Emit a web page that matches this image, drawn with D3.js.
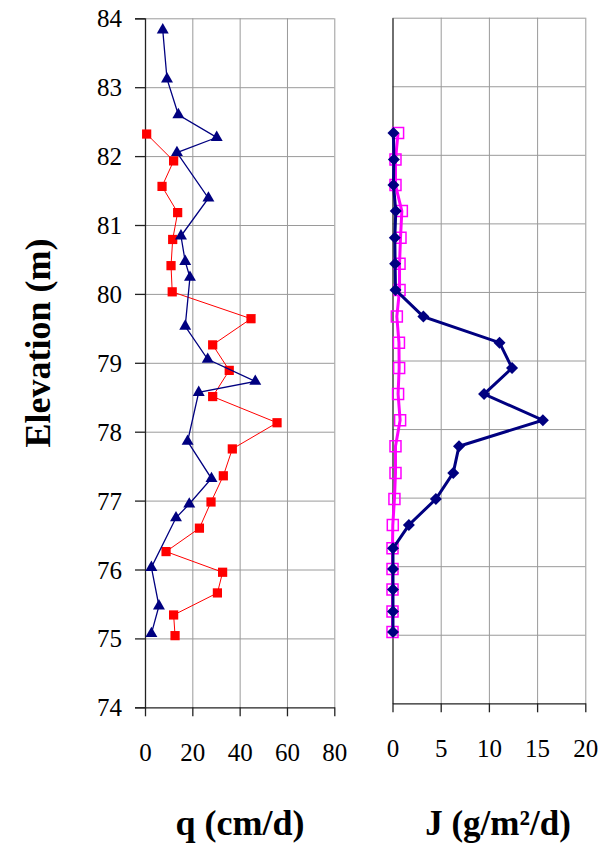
<!DOCTYPE html>
<html>
<head>
<meta charset="utf-8">
<script src="https://cdn.jsdelivr.net/npm/d3@7"></script>
<style>
  body { margin: 0; background: #fff; }
  svg { display: block; font-family: "Liberation Serif", "Times New Roman", serif; }
  .grid line { stroke: #9a9a9a; stroke-width: 1; }
  .grid path { display: none; }
  .axis path, .axis line { stroke: #222; stroke-width: 1.3; }
  .title { font-weight: bold; fill: #000; }
</style>
</head>
<body>
<svg id="chart" width="602" height="851"></svg>
<script>
const serif = "'Liberation Serif', 'Times New Roman', serif";

// elevation ticks shared by both panels
const elevTicks = [74, 75, 76, 77, 78, 79, 80, 81, 82, 83, 84];
const qTicks = [0, 20, 40, 60, 80];
const jTicks = [0, 5, 10, 15, 20];

// blue triangles (q, upper series)
const elevTri = [83.83, 83.12, 82.60, 82.27, 82.05, 81.39, 80.84, 80.47, 80.24, 79.53,
                 79.05, 78.73, 78.57, 77.86, 77.32, 76.95, 76.75, 76.03, 75.47, 75.07];
const qTri = [7.5, 9.3, 14.1, 30.3, 13.5, 26.8, 15.2, 17.0, 19.0, 17.0,
              26.5, 46.6, 22.7, 18.0, 28.1, 18.7, 13.1, 2.7, 5.9, 2.7];

// red squares / diamonds / open squares share the same sampling depths
const elevSq = [82.32, 81.93, 81.56, 81.18, 80.79, 80.41, 80.03, 79.64, 79.26, 78.89, 78.51,
                78.13, 77.75, 77.36, 76.98, 76.60, 76.26, 75.96, 75.66, 75.34, 75.04];
const qSq = [0.7, 12.1, 7.2, 13.8, 11.7, 11.0, 11.5, 44.8, 28.6, 35.6, 28.6,
             55.8, 36.9, 33.1, 27.9, 23.0, 8.9, 32.8, 30.6, 12.1, 12.7];
const jDiamond = [0.1, 0.14, 0.1, 0.34, 0.24, 0.27, 0.31, 3.2, 11.1, 12.4, 9.5,
                  15.6, 6.9, 6.3, 4.5, 1.7, 0.05, 0.05, 0.05, 0.05, 0.05];
const jOpen = [0.58, 0.31, 0.31, 0.97, 0.83, 0.73, 0.73, 0.45, 0.67, 0.69, 0.58,
               0.79, 0.31, 0.31, 0.2, 0.03, 0, 0, 0, 0, 0];

const svg = d3.select("#chart");

function panel(box, xDomain, xTicks, yLabels) {
  const x = d3.scaleLinear().domain(xDomain).range([box.left, box.right]);
  const y = d3.scaleLinear().domain([74, 84]).range([box.bottom, box.top]);
  const g = svg.append("g");

  g.append("g").attr("class", "grid")
    .attr("transform", `translate(0,${box.bottom})`)
    .call(d3.axisBottom(x).tickValues(xTicks.slice(1)).tickSize(-(box.bottom - box.top)).tickFormat(""));
  g.append("g").attr("class", "grid")
    .attr("transform", `translate(${box.left},0)`)
    .call(d3.axisLeft(y).tickValues(elevTicks.slice(1)).tickSize(-(box.right - box.left)).tickFormat(""));

  g.append("g").attr("class", "axis")
    .attr("transform", `translate(0,${box.bottom})`)
    .call(d3.axisBottom(x).tickValues(xTicks).tickSize(9).tickPadding(27).tickSizeOuter(0));

  const yAxis = d3.axisLeft(y).tickValues(elevTicks).tickSizeOuter(0);
  if (yLabels) yAxis.tickSize(10).tickPadding(13);
  else yAxis.tickSize(0).tickFormat("");
  const ya = g.append("g").attr("class", "axis")
    .attr("transform", `translate(${box.left},0)`)
    .call(yAxis);
  ya.select(".domain").attr("stroke", "#000").attr("stroke-width", 1.6);
  ya.selectAll("text").attr("dy", "0.34em");

  g.selectAll(".axis").attr("font-family", serif).attr("font-size", 25);
  g.selectAll(".axis text")
    .style("font-family", serif)
    .style("font-size", "25px")
    .attr("fill", "#000");
  return { g, x, y };
}

const left = panel({ left: 145, right: 334.3, top: 18.3, bottom: 707.3 }, [0, 80], qTicks, true);
const right = panel({ left: 392.5, right: 585.3, top: 17.7, bottom: 703.3 }, [0, 20], jTicks, false);

function series(p, xs, ys, opt) {
  const pts = xs.map((v, i) => [p.x(v), p.y(ys[i])]);
  p.g.append("path")
    .attr("d", d3.line()(pts))
    .attr("fill", "none")
    .attr("stroke", opt.line)
    .attr("stroke-width", opt.width);
  p.g.append("g").selectAll("path")
    .data(pts)
    .join("path")
    .attr("d", d3.symbol().type(opt.symbol).size(opt.size))
    .attr("fill", opt.fill)
    .attr("stroke", opt.stroke || "none")
    .attr("stroke-width", opt.sw || 0)
    .attr("transform", d => `translate(${d[0]},${d[1]})` + (opt.rotate ? ` rotate(${opt.rotate})` : ""));
}

series(left, qSq, elevSq, { line: "#ff0000", width: 1, symbol: d3.symbolSquare, size: 85, fill: "#ff0000" });
series(left, qTri, elevTri, { line: "#000080", width: 1.3, symbol: d3.symbolTriangle, size: 62, fill: "#000080" });
series(right, jOpen, elevSq, { line: "#ff00ff", width: 3, symbol: d3.symbolSquare, size: 121, fill: "none", stroke: "#ff00ff", sw: 1.5 });
series(right, jDiamond, elevSq, { line: "#000080", width: 3, symbol: d3.symbolSquare, size: 72, fill: "#000080", rotate: 45 });

// titles
svg.append("text").attr("class", "title")
  .attr("transform", "translate(50,343) rotate(-90)")
  .attr("text-anchor", "middle")
  .style("font-size", "36px")
  .text("Elevation (m)");
svg.append("text").attr("class", "title")
  .attr("x", 240).attr("y", 835)
  .attr("text-anchor", "middle")
  .style("font-size", "36px")
  .text("q (cm/d)");
svg.append("text").attr("class", "title")
  .attr("x", 498).attr("y", 835)
  .attr("text-anchor", "middle")
  .style("font-size", "35px")
  .text("J (g/m²/d)");
</script>
</body>
</html>
